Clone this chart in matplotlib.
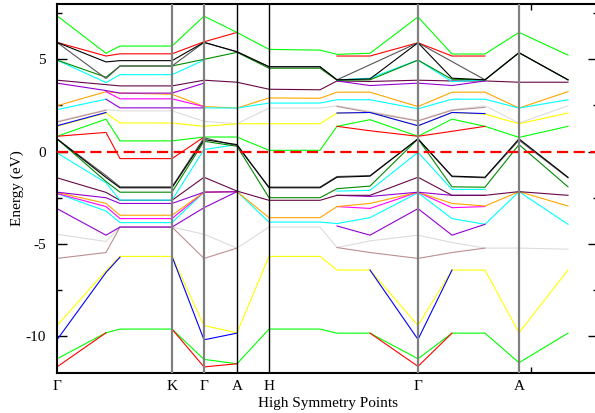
import matplotlib
matplotlib.use("Agg")
import matplotlib.pyplot as plt
import numpy as np

N = None

# k-path distance of every computed point (arbitrary units) and symmetry labels
kdist = [0, 49, 63, 115, 147, 180, 212, 263, 280, 313, 361, 395, 428, 462, 511]
sym_index = [0, 3, 4, 5, 6, 10, 13]
sym_labels = ["Γ", "K", "Γ", "A", "H", "Γ", "A"]
grey_lines = [3, 4, 10, 13]
black_lines = [5, 6]
kmax = 541

# bands above the Fermi level (eV)
green_top = [7.36, 5.33, 5.72, 5.72, 7.34, 6.46, 5.54, 5.50, 5.27, 5.33, 7.30, 5.29, 5.29, 6.46, 5.23]
red_top_a = [5.92, 5.18, 5.30, 5.30, 5.95, 6.46, N, N, N, N, N, N, N, N, N]
red_top_b = [N, N, N, N, N, N, N, N, 5.18, 5.18, 5.90, 5.18, 5.18, N, N]
black_top1 = [5.92, 4.86, 4.93, 4.93, 5.92, 5.41, 4.60, 4.60, 3.89, 3.94, 5.90, 3.98, 3.89, 5.36, 3.89]
black_top2 = [5.92, 3.96, 4.64, 4.64, 5.92, 5.41, 4.60, 4.60, 3.89, N, 5.90, N, 3.89, 5.36, 3.89]
dkgreen_top = [4.96, 4.03, 4.64, 4.64, 5.00, 5.38, 4.52, 4.52, 3.87, 3.89, 4.96, 3.92, 3.89, 5.36, 3.89]
cyan_top_a = [4.96, 3.74, 4.17, 4.17, 4.96, N, N, N, N, N, N, N, N, N, N]
cyan_top_b = [N, N, N, N, N, N, N, N, 3.89, 3.98, 4.96, 3.79, 3.89, N, N]
maroon_top = [3.87, 3.63, 3.56, 3.56, 3.87, 3.76, 3.38, 3.35, 3.83, 3.80, 3.87, 3.83, 3.83, 3.76, 3.76]
violet_top_a = [3.71, 3.31, 3.17, 3.17, 3.71, N, N, N, N, N, N, N, N, N, N]
violet_top_b = [N, N, N, N, N, N, N, N, 3.83, 3.58, 3.71, 3.58, 3.83, N, N]
orange_top = [2.48, 3.25, 3.17, 3.11, 2.44, 2.36, 2.91, 2.89, 3.22, 3.22, 2.44, 3.22, 3.22, 2.36, 3.25]
magenta_top = [N, 3.25, 2.86, 2.86, 2.44, N, N, N, N, N, N, N, N, N, N]
violet_mid = [N, 2.84, 2.37, 2.37, 2.37, N, N, N, N, N, N, N, N, N, N]
cyan_mid_a = [2.27, 2.84, N, N, N, N, N, N, N, N, N, N, N, N, N]
cyan_mid_b = [N, N, N, N, 2.37, 2.36, 2.63, 2.63, 2.81, 2.81, 2.32, 2.84, 2.84, 2.36, 2.81]
grey_top = [1.64, 2.27, 2.21, 2.21, 1.64, 1.51, 2.36, 2.36, 2.48, 2.18, 1.69, 2.27, 2.48, 1.55, 2.48]
brown_top_a = [1.60, 2.24, N, N, N, N, N, N, N, N, N, N, N, N, N]
brown_top_b = [N, N, N, N, N, N, N, N, 2.45, 2.12, 1.66, 2.24, 2.40, N, N]
yellow_top = [1.37, 2.09, 1.55, 1.55, 1.37, 1.51, 1.51, 1.51, 2.09, 2.12, 1.40, 2.12, 2.03, 1.51, 2.09]
blue_top_a = [1.40, 2.12, N, N, N, N, N, N, N, N, N, N, N, N, N]
blue_top_b = [N, N, N, N, N, N, N, N, 2.09, 2.12, 1.40, 2.12, 2.06, N, N]
green_mid = [0.83, 1.76, 0.58, 0.58, 0.79, 0.79, 0.07, 0.07, 1.37, 1.73, 0.83, 1.76, 1.37, 0.77, 1.37]
red_mid_a = [0.83, 1.04, -0.38, -0.38, 0.79, N, N, N, N, N, N, N, N, N, N]
red_mid_b = [N, N, N, N, N, N, N, N, 1.37, 1.13, 0.83, 1.10, 1.37, N, N]

# valence bands (eV)
black_v1 = [0.69, -1.40, -1.96, -1.96, 0.65, 0.38, -1.96, -1.96, -1.39, -1.33, 0.69, -1.33, -1.39, 0.69, -1.39]
black_v2 = [0.69, -1.30, -1.91, -1.91, 0.75, 0.32, -1.92, -1.92, -1.35, -1.30, 0.69, -1.36, -1.42, 0.62, -1.42]
dkgreen_v = [0.69, -1.62, -2.20, -2.20, 0.56, 0.29, -2.50, -2.50, -2.01, -1.87, 0.69, -1.91, -1.93, 0.38, -1.91]
cyan_v_a = [-0.07, -1.69, -2.63, -2.63, 0.11, 0.38, N, N, N, N, N, N, N, N, N]
cyan_v_b = [N, N, N, N, N, N, N, N, -2.14, -2.10, -0.04, -2.05, -2.05, N, N]
maroon_v = [-1.42, -2.21, -2.64, -2.64, -1.39, -2.14, -2.64, -2.64, -2.37, -2.37, -1.39, -2.37, -2.37, -2.17, -2.37]
violet_v_a = [-2.20, -2.50, -2.81, -2.81, -2.20, -2.17, N, N, N, N, N, N, N, N, N]
violet_v_b = [N, N, N, N, N, N, N, N, -2.37, -2.43, -2.20, -2.37, -2.37, N, N]
orange_v = [-2.21, -2.81, -3.45, -3.45, -2.20, -2.17, -3.58, -3.58, -2.98, -2.81, -2.20, -2.81, -2.95, -2.17, -2.95]
magenta_v_a = [-2.27, -2.98, -3.63, -3.63, -2.20, -2.17, N, N, N, N, N, N, N, N, N]
magenta_v_b = [N, N, N, N, N, N, N, N, -2.98, -3.08, -2.20, -3.04, -2.98, N, N]
cyan2_v = [-2.27, -3.22, -3.85, -3.85, -2.20, -2.17, -3.82, -3.82, -3.90, -3.58, -2.23, -3.63, -3.94, -2.17, -3.94]
violet2_v_a = [-3.09, -4.53, -4.09, -4.09, -3.04, -2.17, N, N, N, N, N, N, N, N, N]
violet2_v_b = [N, N, N, N, N, N, N, N, -4.03, -4.53, -3.09, -4.53, -3.94, N, N]
grey_v = [-4.48, -4.87, -4.09, -4.09, -4.48, -5.23, -4.09, -4.09, -5.20, -4.84, -4.53, -4.93, -5.23, -5.23, -5.29]
brown_v_a = [-5.79, -5.47, -4.09, -4.09, -5.79, -5.23, N, N, N, N, N, N, N, N, N]
brown_v_b = [N, N, N, N, N, N, N, N, -5.20, -5.47, -5.79, -5.47, -5.23, N, N]
yellow_v = [-9.43, -6.46, -5.68, -5.68, -9.43, -9.82, -5.68, -5.68, -6.42, -6.42, -9.43, -6.42, -6.42, -9.82, -6.42]
blue_v_a = [-10.20, -6.55, -5.72, N, N, N, N, N, N, N, N, N, N, N, N]
blue_v_b = [N, N, N, -5.68, -10.20, -9.84, N, N, N, N, N, N, N, N, N]
blue_v_c = [N, N, N, N, N, N, N, N, N, -6.42, -10.18, -6.42, N, N, N]
green_v = [-11.23, -9.82, -9.62, -9.62, -11.26, -11.50, -9.62, -9.62, -9.84, -9.84, -11.23, -9.84, -9.84, -11.44, -9.84]
red_v_a = [-11.67, -9.82, N, N, N, N, N, N, N, N, N, N, N, N, N]
red_v_b = [N, N, N, -9.62, -11.67, -11.50, N, N, N, N, N, N, N, N, N]
red_v_c = [N, N, N, N, N, N, N, N, N, -9.84, -11.64, -9.84, N, N, N]

# xmgrace palette
LIME = "#00ff00"
RED = "#ff0000"
BLACK = "#000000"
DKGREEN = "#008b00"
CYAN = "#00ffff"
MAROON = "#670748"
VIOLET = "#9400d3"
ORANGE = "#ffa500"
MAGENTA = "#ff00ff"
LTGREY = "#dcdcdc"
BROWN = "#bc8f8f"
YELLOW = "#ffff00"
BLUE = "#0000ff"

bands = [
    (grey_top, LTGREY), (brown_top_a, BROWN), (brown_top_b, BROWN),
    (grey_v, LTGREY), (brown_v_a, BROWN), (brown_v_b, BROWN),
    (yellow_top, YELLOW), (blue_top_a, BLUE), (blue_top_b, BLUE),
    (yellow_v, YELLOW), (blue_v_a, BLUE), (blue_v_b, BLUE), (blue_v_c, BLUE),
    (green_v, LIME), (red_v_a, RED), (red_v_b, RED), (red_v_c, RED),
    (orange_top, ORANGE), (magenta_top, MAGENTA), (cyan_mid_a, CYAN), (cyan_mid_b, CYAN),
    (violet_mid, VIOLET), (maroon_top, MAROON), (violet_top_a, VIOLET), (violet_top_b, VIOLET),
    (green_mid, LIME), (red_mid_a, RED), (red_mid_b, RED),
    (cyan_top_a, CYAN), (cyan_top_b, CYAN), (dkgreen_top, DKGREEN),
    (red_top_a, RED), (red_top_b, RED), (green_top, LIME),
    (black_top2, "#555555"), (black_top1, BLACK),
    (cyan2_v, CYAN), (magenta_v_a, MAGENTA), (magenta_v_b, MAGENTA),
    (orange_v, ORANGE), (violet2_v_a, VIOLET), (violet2_v_b, VIOLET),
    (violet_v_a, VIOLET), (violet_v_b, VIOLET), (maroon_v, MAROON),
    (cyan_v_a, CYAN), (cyan_v_b, CYAN), (dkgreen_v, DKGREEN),
    (black_v2, "#555555"), (black_v1, BLACK),
]

plt.rcParams["font.family"] = ["Liberation Serif", "DejaVu Serif"]
plt.rcParams["axes.unicode_minus"] = False

fig = plt.figure(figsize=(5.95, 4.13), dpi=100)
ax = fig.add_axes([57 / 595, 40 / 413, 541 / 595, 369 / 413])

for values, color in bands:
    ks = [kdist[i] for i, v in enumerate(values) if v is not None]
    es = [v for v in values if v is not None]
    ax.plot(ks, es, color=color, lw=0.8, solid_joinstyle="miter")

for i in grey_lines:
    ax.axvline(kdist[i], color="#808080", lw=1.6, zorder=5)
for i in black_lines:
    ax.axvline(kdist[i], color="black", lw=1.0, zorder=5)

ax.axhline(0, color="red", lw=1.6, linestyle=(0, (5, 2.5)), zorder=6)

ax.set_xlim(0, kmax)
ax.set_ylim(-12, 8)

ax.set_xticks([kdist[i] for i in sym_index])
ax.set_xticklabels(sym_labels)
ax.set_xticks([474], minor=True)
ax.tick_params(axis="x", which="major", length=0, pad=5, labelsize=11)
ax.tick_params(axis="x", which="minor", direction="in", length=4.5, width=1, top=True, bottom=True)

ax.set_yticks([-10, -5, 0, 5])
ax.set_yticks([-7.5, -2.5, 2.5, 7.5], minor=True)
ax.tick_params(axis="y", which="major", direction="in", length=7, width=1, left=True, right=True,
               pad=8, labelsize=11)
ax.tick_params(axis="y", which="minor", direction="in", length=3.5, width=1, left=True, right=True)

for sp in ax.spines.values():
    sp.set_linewidth(1.5)

ax.set_xlabel("High Symmetry Points", fontsize=11, labelpad=3)
ax.set_ylabel("Energy (eV)", fontsize=11, labelpad=1)

fig.savefig("out.png", dpi=100)
